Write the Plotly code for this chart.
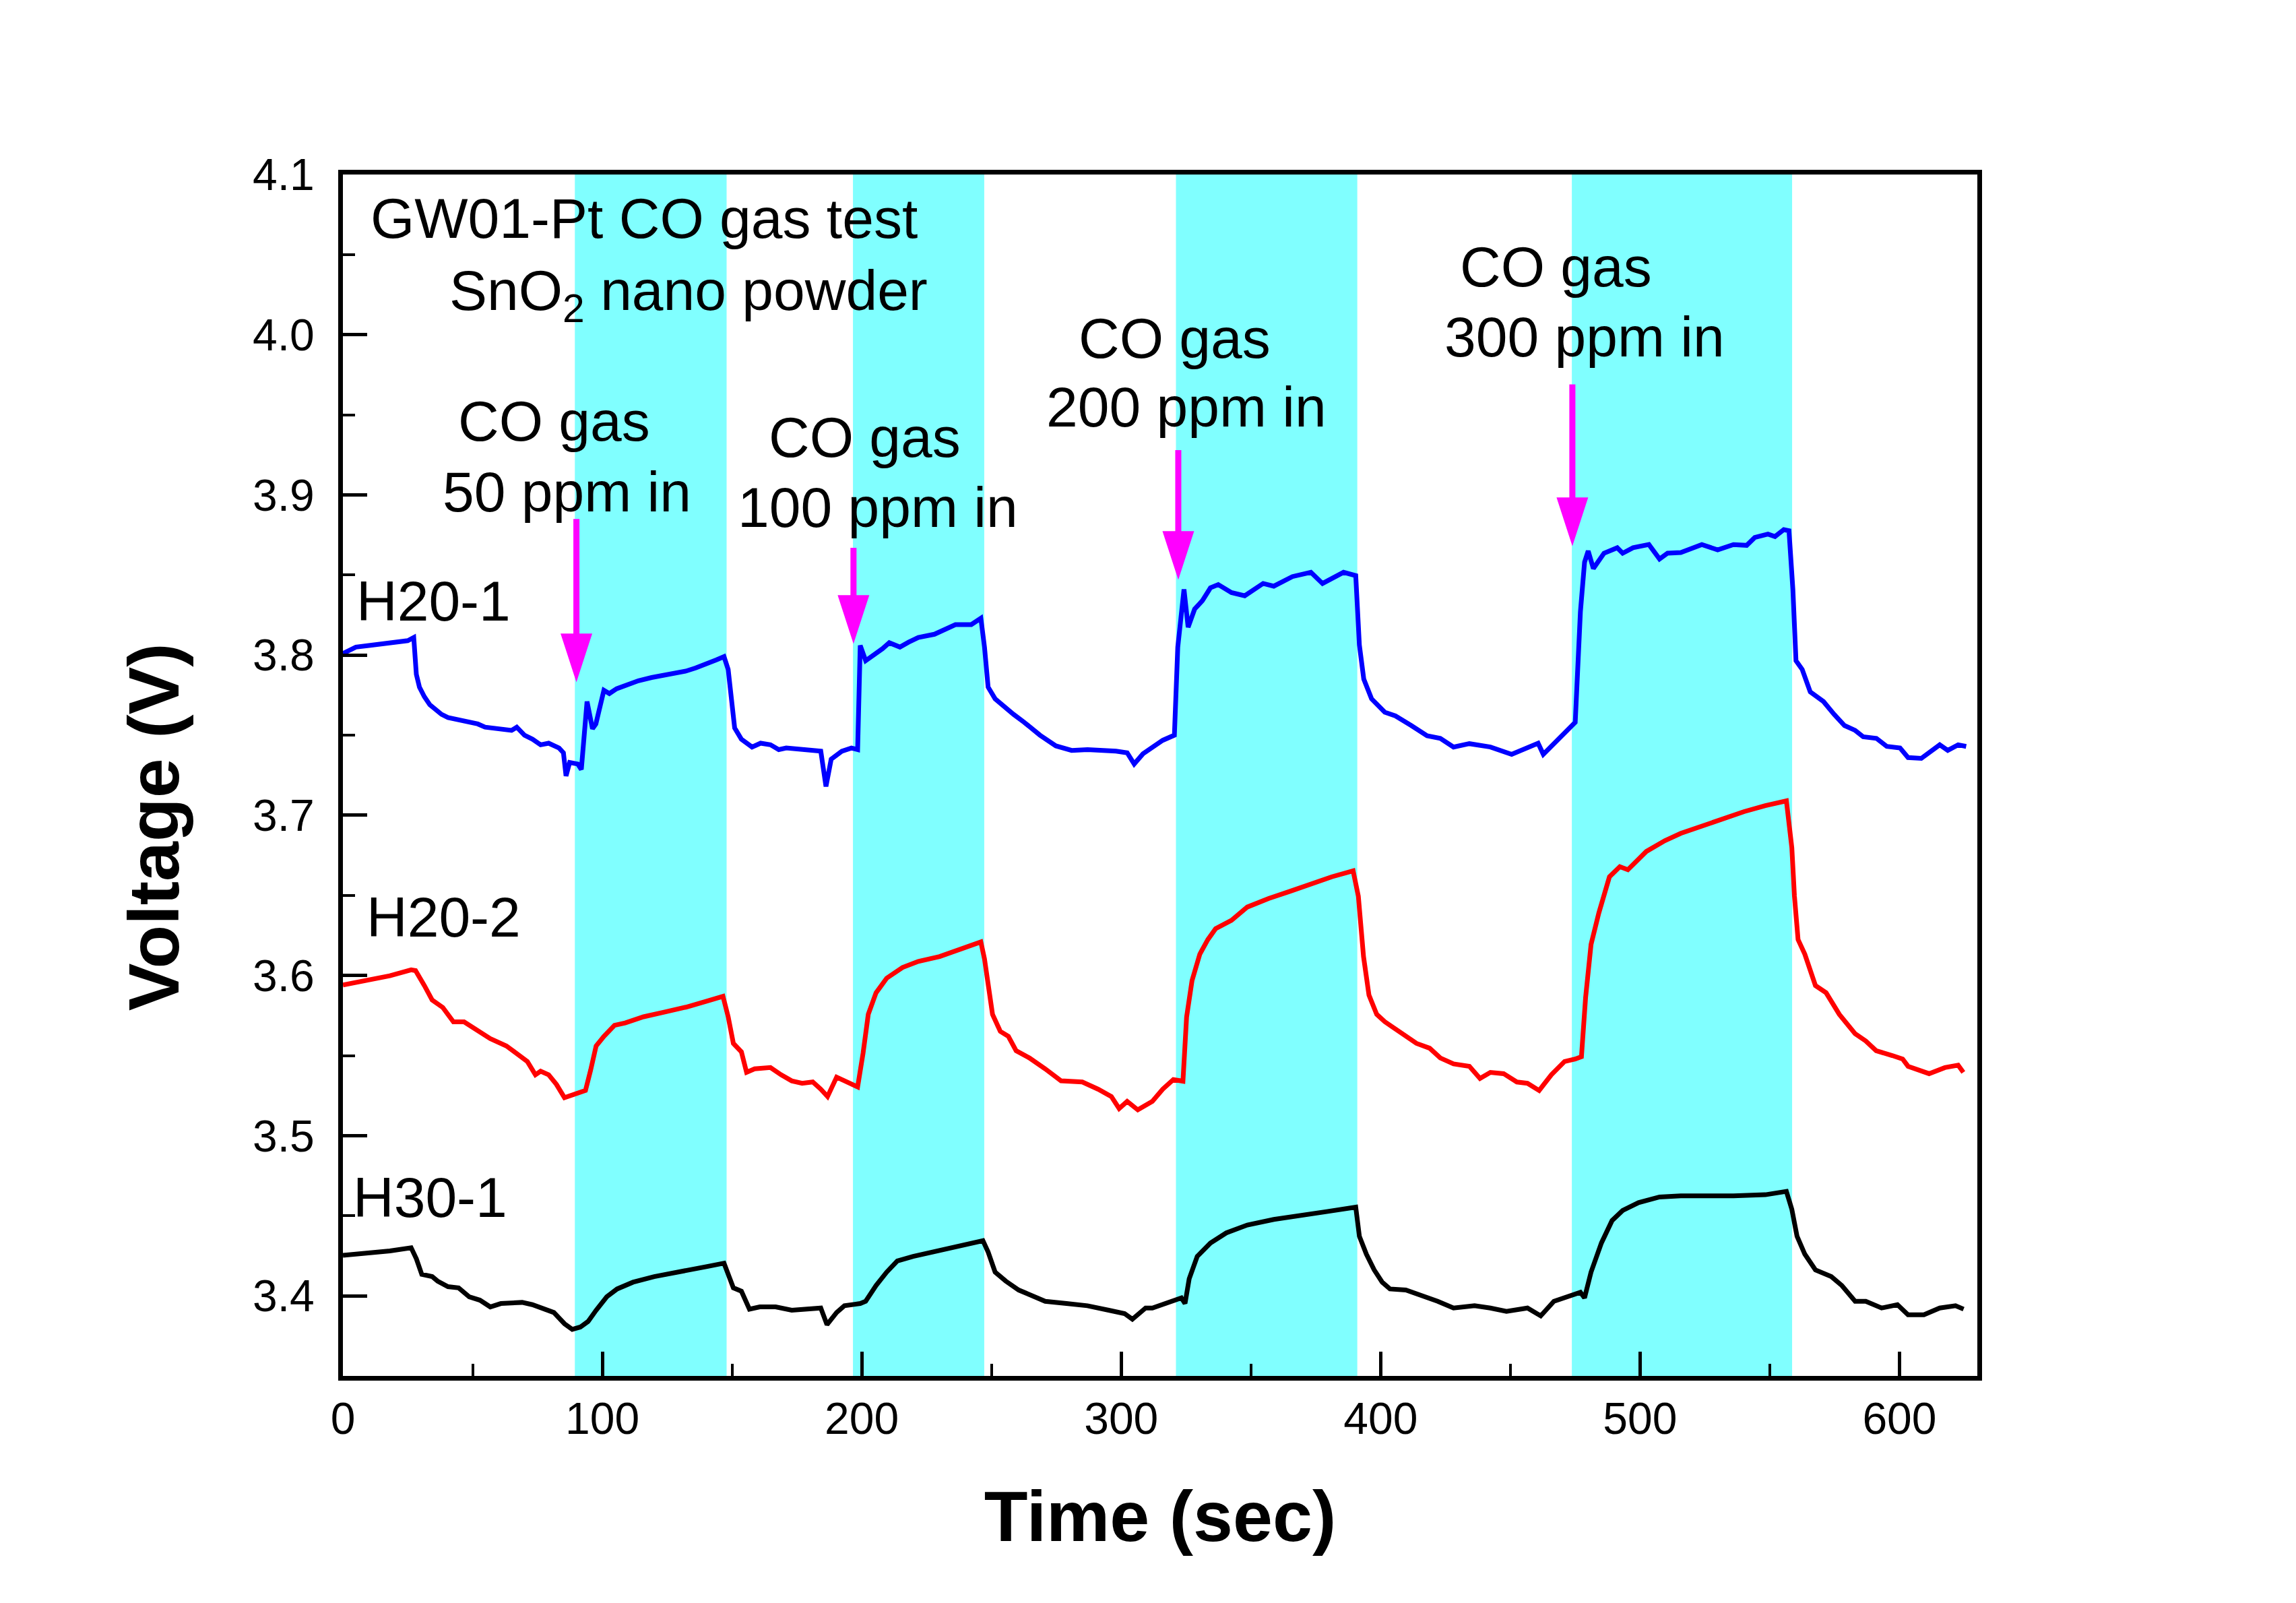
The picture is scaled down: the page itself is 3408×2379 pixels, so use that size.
import plotly.graph_objects as go

# ---------------- data ----------------
t_h201 = [0, 5, 10, 15, 20, 25, 27.3, 28.3, 29.5, 31.4, 33.5, 35.5, 38, 40.5, 44, 48.7, 52, 54.8, 60, 65,
          67, 70, 73.1, 76.2, 79.3, 83.3, 85, 86, 87.4, 90.5, 91.9, 94.1, 96.2, 97.5, 100.6, 102.7, 105.5,
          110, 113.9, 119, 124.1, 128, 132.2, 136, 140.4, 144, 146.9, 148.5, 151, 153.6, 157.7, 161, 164.8,
          168, 170.9, 176, 181.1, 184.2, 186.2, 188.2, 192.3, 196, 198.4, 199.4, 201.5, 205.5, 208, 210.6,
          214.7, 218, 221.8, 228, 232, 236.1, 242.2, 245.9, 247.3, 248.7, 251.4, 254.4, 258.5, 262.6, 268.7,
          274.8, 280.9, 287, 293.1, 298, 302.3, 305, 308.4, 312, 316, 320.5, 321.8, 324.2, 325.8, 328.3,
          331.3, 334.4, 337.4, 342.5, 347.6, 354.7, 358.8, 366, 373.1, 377.6, 381.2, 385.7, 390.4, 391.8,
          393.5, 396.5, 401.6, 405.7, 411.8, 417.9, 423, 428.1, 434.2, 442.3, 450.5, 456.6, 460.7, 462.7,
          468.8, 472.9, 475, 477, 478.6, 480, 482, 486.1, 491.2, 493.3, 497.3, 503.4, 507.5, 510.6, 515.7,
          523.8, 529.9, 536, 541.1, 544.2, 549.3, 552, 555.4, 557.4, 558.9, 560.1, 562.5, 565.6, 570.7,
          574.8, 578.8, 582.9, 586, 591.1, 595.1, 600.2, 603.3, 608.4, 611.4, 615.5, 618.6, 622.6, 625.7]
v_h201 = [3.801, 3.805, 3.806, 3.807, 3.808, 3.809, 3.811, 3.788, 3.780, 3.774, 3.769, 3.766, 3.763, 3.761,
          3.760, 3.758, 3.757, 3.755, 3.754, 3.753, 3.755, 3.750, 3.7475, 3.744, 3.745, 3.742, 3.739, 3.7245,
          3.733, 3.732, 3.7286, 3.771, 3.754, 3.757, 3.778, 3.776, 3.779, 3.782, 3.784, 3.786, 3.7875, 3.789,
          3.790, 3.792, 3.7944, 3.797, 3.799, 3.791, 3.7545, 3.7475, 3.7426, 3.745, 3.744, 3.741, 3.742,
          3.741, 3.7405, 3.740, 3.718, 3.735, 3.740, 3.742, 3.741, 3.806, 3.7965, 3.8007, 3.804, 3.8077,
          3.805, 3.808, 3.811, 3.813, 3.816, 3.819, 3.819, 3.823, 3.805, 3.780, 3.7727, 3.7685, 3.763, 3.758,
          3.750, 3.7433, 3.7405, 3.741, 3.7405, 3.740, 3.739, 3.732, 3.7384, 3.742, 3.7468, 3.750, 3.8049,
          3.841, 3.8174, 3.8287, 3.834, 3.842, 3.844, 3.839, 3.837, 3.8447, 3.843, 3.849, 3.8517, 3.8447,
          3.848, 3.8517, 3.8496, 3.8063, 3.785, 3.7727, 3.7643, 3.762, 3.756, 3.7496, 3.748, 3.7426, 3.7447,
          3.7426, 3.738, 3.742, 3.745, 3.738, 3.7475, 3.7545, 3.758, 3.827, 3.858, 3.865, 3.854, 3.8636,
          3.867, 3.8636, 3.867, 3.869, 3.860, 3.8636, 3.864, 3.869, 3.8657, 3.869, 3.8685, 3.8734, 3.8755,
          3.874, 3.8783, 3.8776, 3.841, 3.7965, 3.791, 3.777, 3.771, 3.763, 3.756, 3.753, 3.749, 3.748,
          3.743, 3.742, 3.736, 3.7355, 3.739, 3.744, 3.7405, 3.744, 3.743]

t_h202 = [0, 10, 18.1, 26.3, 28, 31.4, 34.4, 38.5, 42.6, 46.7, 50.7, 56.8, 63, 67, 71.1, 74.2, 76.2, 79.3,
          82.3, 85.4, 89.4, 93.5, 95.5, 97.6, 100.6, 104.7, 108.8, 115.9, 124.1, 132.2, 140.4, 146.5, 148.5,
          150.5, 153.6, 155.6, 158.7, 164.8, 168.9, 173, 177, 181.1, 184.2, 186.8, 190.3, 193.3, 198.4, 200.5,
          202.5, 205.5, 209.6, 215.7, 221.8, 230, 238.1, 245.9, 247.3, 250.4, 253.4, 256.5, 259.5, 264.6,
          270.7, 276.8, 285, 291.1, 296.2, 299.2, 302.3, 306.4, 312, 316, 320.1, 323.8, 325.2, 327.3, 330.3,
          333.4, 336.4, 342.5, 348.6, 356.8, 365, 373.1, 381.2, 389.4, 391.4, 393.4, 395.5, 398.5, 401.6,
          405.7, 409.7, 413.8, 418.9, 423, 428.1, 434.2, 438.3, 442.3, 447.4, 452.5, 456.6, 461.1, 465.8,
          470.9, 475, 477.4, 479, 481.1, 484.1, 488.2, 492.2, 495.3, 502.4, 509.6, 515.7, 523.8, 532, 540.1,
          548.3, 556.4, 558.5, 559.5, 560.9, 563.5, 567.6, 571.7, 576.8, 582.9, 587, 591, 597.2, 601.2,
          603.3, 611.4, 617.5, 622.6, 624.6]
v_h202 = [3.594, 3.5968, 3.5998, 3.6035, 3.603, 3.5937, 3.5847, 3.580, 3.571, 3.571, 3.5666, 3.5606, 3.556,
          3.5515, 3.5463, 3.538, 3.5402, 3.538, 3.532, 3.5237, 3.526, 3.5282, 3.541, 3.556, 3.562, 3.5689,
          3.5704, 3.5742, 3.5772, 3.5802, 3.584, 3.587, 3.5742, 3.5576, 3.5523, 3.5395, 3.5417, 3.5425,
          3.538, 3.5342, 3.5327, 3.5335, 3.529, 3.5244, 3.5365, 3.534, 3.5304, 3.5515, 3.5757, 3.5892,
          3.5983, 3.605, 3.6088, 3.6118, 3.6164, 3.6209, 3.6103, 3.5757, 3.5651, 3.562, 3.553, 3.5485,
          3.5417, 3.5342, 3.5335, 3.529, 3.5244, 3.5169, 3.5214, 3.5161, 3.5214, 3.529, 3.535, 3.534, 3.574,
          3.5968, 3.6133, 3.6224, 3.6292, 3.6344, 3.6427, 3.648, 3.6525, 3.657, 3.6616, 3.6653, 3.6495,
          3.6118, 3.5877, 3.5757, 3.5711, 3.5666, 3.562, 3.5576, 3.5546, 3.5485, 3.5448, 3.5433, 3.5357,
          3.5395, 3.5387, 3.5335, 3.5327, 3.5282, 3.538, 3.5463, 3.5478, 3.5493, 3.5862, 3.6194, 3.639,
          3.6616, 3.6679, 3.666, 3.6774, 3.6842, 3.6887, 3.6932, 3.6977, 3.7023, 3.706, 3.709, 3.6797,
          3.6495, 3.6224, 3.6133, 3.5937, 3.5892, 3.5757, 3.5636, 3.5591, 3.553, 3.55, 3.5478, 3.5433,
          3.5387, 3.5425, 3.544, 3.5395]

t_h301 = [0, 10, 18.1, 26.3, 28.3, 30.4, 34.4, 36.5, 40.5, 44.6, 48.7, 52.8, 56.8, 60.9, 69.1, 73, 77.2,
          81.3, 85.4, 88.4, 91.5, 94.5, 97.6, 101.7, 105.7, 111.8, 120, 130.2, 140.4, 146.9, 148.9, 150.5,
          153.6, 156.7, 160.7, 166.8, 173, 181.1, 184.2, 186.6, 190.3, 193.3, 199.4, 201.5, 205.5, 209.6,
          213.7, 219.8, 228, 238.1, 246.7, 248.7, 251.4, 255.5, 260.5, 264.6, 270.7, 278.9, 287, 295.2,
          301.3, 304.3, 309.4, 312, 318.1, 323.2, 324.6, 326.2, 329.3, 334.4, 340.5, 348.6, 358.8, 369,
          379.2, 390.4, 391.8, 394.5, 397.5, 400.6, 403.6, 409.7, 415.9, 422, 428.1, 436.2, 442.3, 448.5,
          456.6, 461.7, 466.8, 472.9, 477, 478.6, 481.1, 485.1, 489.2, 493.3, 499.4, 507.5, 515.7, 536,
          548.3, 556.4, 558.5, 560.5, 563.5, 567.6, 573.7, 577.8, 582.9, 587, 593.1, 599.2, 603.3, 609.4,
          615.5, 621.6, 624.7]
v_h301 = [3.4253, 3.4267, 3.428, 3.430, 3.4232, 3.4134, 3.412, 3.4092, 3.4057, 3.405, 3.3994, 3.3973,
          3.3931, 3.3952, 3.3959, 3.3945, 3.3924, 3.3896, 3.3826, 3.3791, 3.3805, 3.384, 3.391, 3.3994,
          3.4043, 3.4085, 3.412, 3.4155, 3.4183, 3.4204, 3.412, 3.405, 3.4029, 3.3917, 3.3931, 3.3931,
          3.391, 3.3924, 3.3924, 3.382, 3.3896, 3.3938, 3.3952, 3.3966, 3.4064, 3.4148, 3.4218, 3.4246,
          3.4274, 3.4316, 3.4344, 3.4274, 3.4148, 3.4092, 3.4036, 3.4008, 3.3966, 3.3952, 3.3938, 3.391,
          3.3889, 3.3854, 3.3924, 3.3924, 3.3959, 3.3987, 3.3952, 3.4106, 3.4246, 3.433, 3.4393, 3.4442,
          3.4477, 3.4505, 3.4526, 3.4554, 3.4372, 3.426, 3.4162, 3.4085, 3.4043, 3.4036, 3.4001, 3.3966,
          3.3924, 3.3938, 3.3924, 3.3903, 3.3924, 3.3875, 3.3966, 3.4001, 3.4022, 3.3987, 3.4148, 3.433,
          3.447, 3.4533, 3.4582, 3.4617, 3.4624, 3.4624, 3.4631, 3.4652, 3.454, 3.4372, 3.426, 3.4162,
          3.412, 3.4064, 3.3966, 3.3966, 3.3924, 3.3945, 3.3882, 3.3882, 3.3924, 3.3938, 3.3917]

series_names = ["H20-1", "H20-2", "H30-1"]
series_colors = ["#0000FF", "#FF0000", "#000000"]

# CO gas on/off periods (sec)
gas_on = [89.4, 196.6, 321.1, 473.7]
gas_off = [147.9, 247.2, 391.0, 558.6]
gas_labels = ["50 ppm in", "100 ppm in", "200 ppm in", "300 ppm in"]

# arrows marking gas injection
arrow_t = [90.0, 196.8, 322.0, 473.9]
arrow_tail = [3.885, 3.867, 3.928, 3.969]
arrow_tip = [3.783, 3.807, 3.847, 3.868]

x_ticks = [0, 100, 200, 300, 400, 500, 600]
y_ticks = [3.4, 3.5, 3.6, 3.7, 3.8, 3.9, 4.0, 4.1]

# ---------------- figure ----------------
FONT = "Liberation Sans, Arial, sans-serif"
fig = go.Figure()

for on, off in zip(gas_on, gas_off):
    fig.add_shape(type="rect", xref="x", yref="paper", x0=on, x1=off, y0=0, y1=1,
                  fillcolor="#80FFFF", line=dict(width=0), layer="below")

for t, v, name, col in zip([t_h201, t_h202, t_h301], [v_h201, v_h202, v_h301],
                           series_names, series_colors):
    fig.add_trace(go.Scatter(x=t, y=v, mode="lines", name=name,
                             line=dict(color=col, width=7), showlegend=False))

# arrows: shaft + head
for t, tail, tip in zip(arrow_t, arrow_tail, arrow_tip):
    fig.add_trace(go.Scatter(x=[t, t], y=[tail, tip + 0.02], mode="lines",
                             line=dict(color="#FF00FF", width=9), showlegend=False))
fig.add_trace(go.Scatter(x=arrow_t, y=arrow_tip, mode="markers", showlegend=False,
                         marker=dict(symbol="arrow", angle=180, size=76, color="#FF00FF",
                                     line=dict(width=0))))

# text annotations
ann_font = dict(family=FONT, size=84, color="black")
fig.add_annotation(x=10.2, y=4.0726, xref="x", yref="y", text="GW01-Pt CO gas test",
                   showarrow=False, xanchor="left", yanchor="middle", font=ann_font)
fig.add_annotation(x=40.6, y=4.025, xref="x", yref="y", text="SnO<sub>2</sub> nano powder",
                   showarrow=False, xanchor="left", yanchor="middle", font=ann_font)

co_xy = [(81.5, 3.946), (201.2, 3.9358), (320.5, 3.9978), (467.5, 4.0425)]
ppm_xy = [(86.3, 3.902), (206.3, 3.892), (325.1, 3.955), (478.6, 3.9987)]
for (cx, cy), (px, py), lab in zip(co_xy, ppm_xy, gas_labels):
    fig.add_annotation(x=cx, y=cy, xref="x", yref="y", text="CO gas", showarrow=False,
                       xanchor="center", yanchor="middle", font=ann_font)
    fig.add_annotation(x=px, y=py, xref="x", yref="y", text=lab, showarrow=False,
                       xanchor="center", yanchor="middle", font=ann_font)

label_xy = [(4.6, 3.8336), (8.5, 3.6365), (3.4, 3.4613)]
for (lx, ly), name in zip(label_xy, series_names):
    fig.add_annotation(x=lx, y=ly, xref="x", yref="y", text=name, showarrow=False,
                       xanchor="left", yanchor="middle", font=ann_font)

# y-axis title (placed slightly below the plot centre, as in the reference)
fig.add_annotation(x=-0.1158, y=0.457, xref="paper", yref="paper", text="<b>Voltage (V)</b>",
                   textangle=-90, showarrow=False, xanchor="center", yanchor="middle",
                   font=dict(family=FONT, size=106, color="black"))

axis_common = dict(showline=True, linewidth=7, linecolor="black", mirror=True,
                   showgrid=False, zeroline=False, ticks="inside", tickwidth=5,
                   ticklen=36, tickcolor="black",
                   tickfont=dict(family=FONT, size=66, color="black"))

fig.update_xaxes(range=[0, 630], tickvals=x_ticks, ticktext=[str(v) for v in x_ticks],
                 minor=dict(dtick=50, tick0=0, ticks="inside", ticklen=18, tickwidth=4,
                            tickcolor="black", showgrid=False),
                 ticklabelstandoff=0,
                 title=dict(text="Time (sec)", standoff=74,
                            font=dict(family=FONT, size=106, color="black", weight="bold")),
                 **axis_common)
fig.update_yaxes(range=[3.35, 4.1], tickvals=y_ticks, ticktext=[f"{v:.1f}" for v in y_ticks],
                 minor=dict(dtick=0.05, tick0=3.35, ticks="inside", ticklen=18, tickwidth=4,
                            tickcolor="black", showgrid=False),
                 ticklabelstandoff=22,
                 **axis_common)

fig.update_layout(width=3408, height=2379,
                  margin=dict(l=501, r=481, t=251, b=345),
                  paper_bgcolor="white", plot_bgcolor="white",
                  font=dict(family=FONT, color="black"),
                  showlegend=False)

fig.write_html("out.html")
